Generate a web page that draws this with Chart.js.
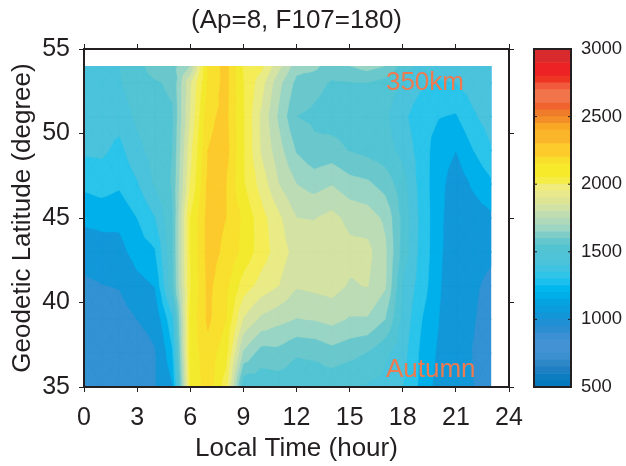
<!DOCTYPE html>
<html>
<head>
<meta charset="utf-8">
<style>
  html, body { margin: 0; padding: 0; background: #fff; }
  #wrap { position: relative; width: 626px; height: 466px; overflow: hidden; }
  canvas { position: absolute; top: 0; }
  #map { left: 0; }
  #bar { left: 526px; }
</style>
</head>
<body>
<div id="wrap">
  <canvas id="map" width="526" height="466"></canvas>
  <canvas id="bar" width="100" height="466"></canvas>
</div>
<script src="https://cdn.jsdelivr.net/npm/chart.js@4"></script>
<script>
const hours = [0, 1, 2, 3, 4, 5, 6, 7, 8, 9, 10, 11, 12, 13, 14, 15, 16, 17, 18, 19, 20, 21, 22, 23]
const lats = [35, 37, 39, 41, 43, 45, 47, 49, 51, 53, 54]

// density by latitude row (south to north), one value per local hour
const lat35 = [800, 780, 790, 790, 935, 1090, 2100, 2260, 2050, 1410, 1430, 1440, 1430, 1430, 1420, 1400, 1390, 1370, 1300, 1180, 1060, 1000, 950, 880]
const lat37 = [830, 810, 820, 860, 935, 1190, 2140, 2260, 2140, 1680, 1555, 1565, 1510, 1520, 1560, 1530, 1495, 1420, 1340, 1185, 1085, 990, 945, 890]
const lat39 = [870, 860, 880, 950, 1010, 1280, 2130, 2320, 2205, 1890, 1775, 1730, 1695, 1705, 1730, 1690, 1690, 1600, 1370, 1210, 1105, 980, 955, 905]
const lat41 = [920, 945, 960, 1060, 1105, 1480, 2090, 2325, 2230, 2055, 1960, 1900, 1810, 1825, 1840, 1790, 1805, 1715, 1390, 1255, 1125, 970, 965, 925]
const lat43 = [1010, 1040, 1060, 1150, 1190, 1490, 2100, 2340, 2280, 2170, 2050, 1950, 1860, 1870, 1880, 1830, 1830, 1720, 1460, 1270, 1135, 1000, 985, 970]
const lat45 = [1130, 1140, 1130, 1200, 1295, 1490, 2100, 2340, 2300, 2180, 2040, 1920, 1800, 1795, 1830, 1770, 1750, 1680, 1470, 1275, 1135, 1020, 1050, 1080]
const lat47 = [1220, 1240, 1215, 1290, 1410, 1510, 2000, 2325, 2300, 2110, 1960, 1800, 1700, 1660, 1695, 1640, 1620, 1560, 1440, 1260, 1140, 1040, 1115, 1180]
const lat49 = [1315, 1320, 1270, 1370, 1440, 1500, 1960, 2300, 2345, 2105, 1890, 1740, 1590, 1525, 1540, 1495, 1470, 1440, 1370, 1255, 1150, 1100, 1200, 1290]
const lat51 = [1350, 1350, 1340, 1420, 1470, 1490, 1900, 2275, 2330, 2105, 1880, 1680, 1500, 1480, 1450, 1440, 1440, 1420, 1325, 1240, 1205, 1190, 1285, 1350]
const lat53 = [1385, 1380, 1390, 1465, 1490, 1515, 1880, 2210, 2340, 2100, 1945, 1730, 1570, 1530, 1490, 1495, 1500, 1460, 1380, 1320, 1290, 1300, 1350, 1380]
const lat54 = [1390, 1390, 1400, 1470, 1540, 1560, 1700, 2210, 2340, 2090, 2030, 1830, 1640, 1630, 1540, 1600, 1640, 1600, 1460, 1360, 1350, 1350, 1380, 1390]
const rows = [lat35, lat37, lat39, lat41, lat43, lat45, lat47, lat49, lat51, lat53, lat54]

// contour levels and the colour filled above each one
const levels = [500, 950, 1100, 1200, 1300, 1400, 1500, 1600, 1700, 1800, 1900, 2000, 2100, 2200, 2300]
const levelColors = ['#3292d3', '#1298d8', '#00b0ea', '#2bc4ea', '#4bc3dc', '#52c4d3', '#6ac8cd', '#99d5c5', '#bcdcb6', '#d4e3a3', '#e9eb87', '#f5ed55', '#f3ea2e', '#f9e02f', '#fcca2c']

// colour bar, one colour per 50 units from 500 up to 3000
const barStart = 500
const barStep = 50
const barColors = [
  '#0579bd', '#0b7dc0', '#1e80c2', '#2e88c8', '#3d90cf', '#4393d4', '#4393d4', '#3a90d2', '#2a8ed0', '#1e90d3',
  '#1296d7', '#0a9cdc', '#05a3e0', '#00aee8', '#00b8ee', '#1cc0ee', '#2fc4e8', '#40c3e0', '#4dc3da', '#50c3d6',
  '#52c3d1', '#63c7cd', '#80cdc8', '#9dd5c3', '#b0d9ba', '#bfddb0', '#d2e2a5', '#dde595', '#e8e98d', '#efeb7c',
  '#f5ed45', '#f6ea2a', '#f6ea2a', '#f9df2b', '#fdcb2b', '#fdcb2b', '#fbb52a', '#fbb52a', '#f9a825', '#f48f27',
  '#ef7c2a', '#f0632f', '#f2744b', '#f2744b', '#f15a3a', '#ee3524', '#ed2224', '#ed2224', '#d92a2e', '#d92a2e',
]

const notes = [
  { text: '350km', x: 17.05, y: 53 },
  { text: 'Autumn', x: 17.05, y: 36 },
]

const FONT = '"Liberation Sans", Arial, sans-serif'
const INK = '#231f20'
const NOTE_COLOR = '#ee7a50'

const cells = []
lats.forEach((lat, j) => hours.forEach((h, i) => cells.push({ x: h, y: lat, v: rows[j][i] })))

// keep the part of a triangle where v >= level
function clipAbove(tri, level) {
  const out = []
  for (let i = 0; i < tri.length; i++) {
    const a = tri[i]
    const b = tri[(i + 1) % tri.length]
    if (a.v >= level) out.push(a)
    if ((a.v >= level) !== (b.v >= level)) {
      const t = (level - a.v) / (b.v - a.v)
      out.push({ x: a.x + t * (b.x - a.x), y: a.y + t * (b.y - a.y), v: level })
    }
  }
  return out
}

// fixed axis boxes, tick labels must not push the plot area in
function fixBox(s, size) {
  if (s.isHorizontal()) s.height = size
  else s.width = size
  s.paddingLeft = s.paddingRight = s.paddingTop = s.paddingBottom = 0
}

const contourPlugin = {
  id: 'contour',
  beforeDatasetsDraw(chart) {
    const { ctx, scales } = chart
    const pts = chart.data.datasets[0].data
    const nx = hours.length
    const at = (i, j) => pts[j * nx + i]
    const tris = []
    for (let j = 0; j < lats.length - 1; j++) {
      for (let i = 0; i < nx - 1; i++) {
        const a = at(i, j), b = at(i + 1, j), c = at(i + 1, j + 1), d = at(i, j + 1)
        const m = { x: (a.x + c.x) / 2, y: (a.y + c.y) / 2, v: (a.v + b.v + c.v + d.v) / 4 }
        tris.push([a, b, m], [b, c, m], [c, d, m], [d, a, m])
      }
    }
    const left = scales.x.getPixelForValue(hours[0])
    const right = scales.x.getPixelForValue(hours[nx - 1])
    const top = scales.y.getPixelForValue(lats[lats.length - 1])
    const bottom = scales.y.getPixelForValue(lats[0])
    ctx.save()
    ctx.beginPath()
    ctx.rect(left, top, right - left, bottom - top)
    ctx.clip()
    levels.forEach((level, k) => {
      ctx.beginPath()
      tris.forEach(tri => {
        const poly = clipAbove(tri, level)
        if (poly.length < 3) return
        poly.forEach((p, n) => {
          const px = scales.x.getPixelForValue(p.x)
          const py = scales.y.getPixelForValue(p.y)
          if (n === 0) ctx.moveTo(px, py)
          else ctx.lineTo(px, py)
        })
        ctx.closePath()
      })
      ctx.fillStyle = levelColors[k]
      ctx.strokeStyle = levelColors[k]
      ctx.lineWidth = 0.5
      ctx.fill()
      ctx.stroke()
    })
    ctx.restore()
  },
  afterDatasetsDraw(chart) {
    const { ctx, scales } = chart
    ctx.save()
    ctx.fillStyle = NOTE_COLOR
    ctx.font = '26px ' + FONT
    ctx.textBaseline = 'middle'
    notes.forEach(n => ctx.fillText(n.text, scales.x.getPixelForValue(n.x), scales.y.getPixelForValue(n.y)))
    ctx.restore()
  },
}

new Chart(document.getElementById('map'), {
  type: 'scatter',
  data: { datasets: [{ data: cells, pointRadius: 0, pointHoverRadius: 0 }] },
  plugins: [contourPlugin],
  options: {
    responsive: false,
    animation: false,
    layout: { padding: 0 },
    plugins: {
      legend: { display: false },
      tooltip: { enabled: false },
      title: {
        display: true,
        text: '(Ap=8, F107=180)',
        color: INK,
        fullSize: false,
        font: { family: FONT, size: 26, weight: 'normal' },
        padding: { top: 4.8, bottom: 7 },
      },
    },
    scales: {
      x: {
        type: 'linear', position: 'bottom', min: 0, max: 24,
        afterFit: s => fixBox(s, 79),
        border: { color: INK, width: 2, z: 1 },
        grid: { drawOnChartArea: false, tickLength: 5, tickColor: INK, tickWidth: 1 },
        ticks: { stepSize: 3, color: INK, padding: 11, maxRotation: 0, font: { family: FONT, size: 25 } },
        title: { display: true, text: 'Local Time (hour)', color: INK, padding: { top: 2, bottom: 2 }, font: { family: FONT, size: 26 } },
      },
      y: {
        type: 'linear', position: 'left', min: 35, max: 55,
        afterFit: s => fixBox(s, 84),
        border: { color: INK, width: 2, z: 1 },
        grid: { drawOnChartArea: false, tickLength: 5, tickColor: INK, tickWidth: 1 },
        ticks: { stepSize: 5, color: INK, padding: 9, font: { family: FONT, size: 25 } },
        title: { display: true, text: 'Geodetic Latitude (degree)', color: INK, padding: { top: 7, bottom: 2 }, font: { family: FONT, size: 26 } },
      },
      xTop: {
        type: 'linear', position: 'top', min: 0, max: 24,
        afterFit: s => fixBox(s, 6),
        border: { color: INK, width: 2, z: 1 },
        grid: { drawOnChartArea: false, tickLength: 5, tickColor: INK, tickWidth: 1 },
        ticks: { display: false, stepSize: 3 },
      },
      yRight: {
        type: 'linear', position: 'right', min: 35, max: 55,
        afterFit: s => fixBox(s, 17),
        border: { color: INK, width: 2, z: 1 },
        grid: { drawOnChartArea: false, tickLength: 5, tickColor: INK, tickWidth: 1 },
        ticks: { display: false, stepSize: 5 },
      },
    },
  },
})

const barFrame = {
  id: 'barFrame',
  afterDatasetsDraw(chart) {
    const { ctx, chartArea, scales } = chart
    ctx.save()
    ctx.strokeStyle = INK
    ctx.lineWidth = 1
    scales.y.ticks.forEach(t => {
      const py = scales.y.getPixelForValue(t.value)
      ctx.beginPath()
      ctx.moveTo(chartArea.left, py)
      ctx.lineTo(chartArea.left + 3, py)
      ctx.moveTo(chartArea.right, py)
      ctx.lineTo(chartArea.right - 3, py)
      ctx.stroke()
    })
    ctx.lineWidth = 2
    ctx.strokeRect(chartArea.left, chartArea.top, chartArea.right - chartArea.left, chartArea.bottom - chartArea.top)
    ctx.restore()
  },
}

new Chart(document.getElementById('bar'), {
  type: 'bar',
  data: {
    labels: ['density'],
    datasets: barColors.map((color, i) => ({
      data: [[barStart + i * barStep, barStart + (i + 1) * barStep]],
      backgroundColor: color,
      borderWidth: 0,
      grouped: false,
      barPercentage: 1,
      categoryPercentage: 1,
    })),
  },
  plugins: [barFrame],
  options: {
    responsive: false,
    animation: false,
    layout: { padding: { left: 8, top: 49, bottom: 79 } },
    plugins: { legend: { display: false }, tooltip: { enabled: false } },
    scales: {
      x: { display: false },
      y: {
        position: 'right', min: 500, max: 3000,
        afterFit: s => fixBox(s, 55),
        border: { display: false },
        grid: { display: false },
        ticks: { stepSize: 500, autoSkip: false, color: INK, padding: 2, font: { family: FONT, size: 18.5 }, callback: v => String(v) },
      },
    },
  },
})
</script>
</body>
</html>
